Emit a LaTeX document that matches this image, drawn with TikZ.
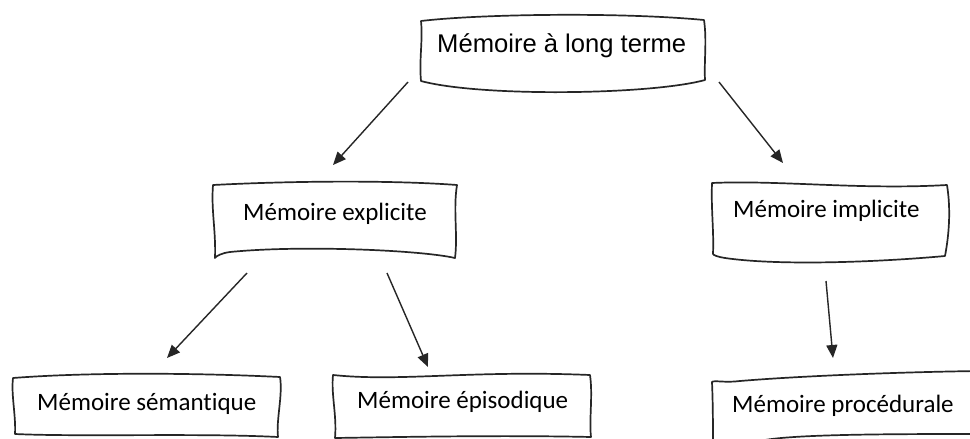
\documentclass[tikz,border=0pt]{standalone}
\usepackage{fontspec}
\setmainfont[Ligatures=NoCommon]{Carlito}
\newfontfamily\topfont{Liberation Sans}
\usetikzlibrary{arrows.meta}
\tikzset{
  boxline/.style={draw=black!85, line width=1.7pt, line join=round, line cap=round},
  link/.style={draw=black!85, line width=1.4pt, -{Triangle[length=13pt,width=11pt]}},
  lbl/.style={anchor=base west, inner sep=0pt, font=\fontsize{25}{29}\selectfont},
  toplbl/.style={anchor=base west, inner sep=0pt, font=\topfont\fontsize{25.6}{30}\selectfont}
}
\begin{document}
\begin{tikzpicture}[x=1pt,y=-1pt]
\useasboundingbox (0,0) rectangle (970,439);
\clip (0,0) rectangle (970,439);
\fill[white] (0,0) rectangle (970,439);
% top box
\draw[boxline] (421,21) .. controls (480,14) and (620,12) .. (704,20)
  .. controls (707,40) and (704,62) .. (705,80)
  .. controls (650,95) and (480,97) .. (421,81)
  .. controls (419,60) and (423,40) .. (421,21) -- cycle;
\node[toplbl] (top) at (437,52) {Mémoire à long terme};
% explicit box
\draw[boxline] (213,185) .. controls (290,181) and (390,180) .. (457,185)
  .. controls (453,210) and (458,235) .. (455,258)
  .. controls (420,250) and (300,245) .. (230,252)
  .. controls (222,253) and (216,256) .. (215,258)
  .. controls (216,230) and (211,210) .. (213,185) -- cycle;
\node[lbl] (expl) at (243,220) {Mémoire explicite};
% implicit box
\draw[boxline] (712,183) .. controls (780,180) and (860,190) .. (947,185)
  .. controls (951,210) and (949,235) .. (945,256)
  .. controls (880,262) and (780,266) .. (725,258)
  .. controls (718,257) and (713,255) .. (713,254)
  .. controls (714,230) and (711,210) .. (712,183) -- cycle;
\node[lbl] (impl) at (733,217) {Mémoire implicite};
% semantique box
\draw[boxline] (13,378) .. controls (90,372) and (200,373) .. (280,377)
  .. controls (283,395) and (276,420) .. (278,437)
  .. controls (200,433) and (80,437) .. (15,434)
  .. controls (16,415) and (11,395) .. (13,378) -- cycle;
\node[lbl] (sem) at (37,410) {Mémoire sémantique};
% episodique box
\draw[boxline] (333,375) .. controls (400,382) and (470,370) .. (590,375)
  .. controls (593,395) and (589,420) .. (591,437)
  .. controls (500,435) and (400,437) .. (335,438)
  .. controls (337,415) and (331,395) .. (333,375) -- cycle;
\node[lbl] (epi) at (357,408) {Mémoire épisodique};
% procedurale box
\draw[boxline] (980,371) .. controls (900,372) and (800,376) .. (740,381)
  .. controls (725,383) and (714,380) .. (712,382)
  .. controls (713,405) and (713,430) .. (713,445);
\draw[boxline] (765,440) .. controls (800,434) and (900,434) .. (980,434);
\node[lbl] (proc) at (732,412) {Mémoire procédurale};
% arrow ends
\coordinate (a1s) at (408,82);  \coordinate (a1e) at (333,165);
\coordinate (a2s) at (719,82);  \coordinate (a2e) at (783,163);
\coordinate (a3s) at (247,273); \coordinate (a3e) at (167,358);
\coordinate (a4s) at (387,273); \coordinate (a4e) at (428,367);
\coordinate (a5s) at (826,281); \coordinate (a5e) at (833,358);
\draw[link] (a1s) -- (a1e);
\draw[link] (a2s) -- (a2e);
\draw[link] (a3s) -- (a3e);
\draw[link] (a4s) -- (a4e);
\draw[link] (a5s) -- (a5e);
\end{tikzpicture}
\end{document}
